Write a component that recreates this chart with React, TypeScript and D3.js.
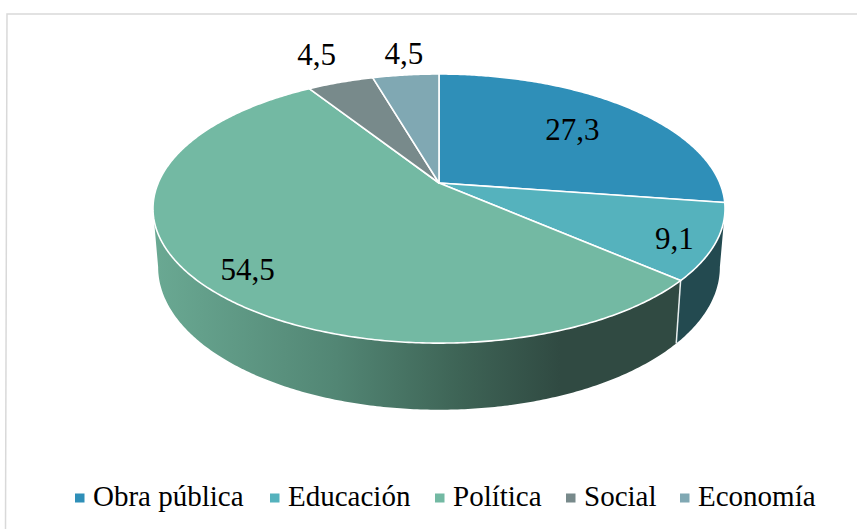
import * as d3 from 'd3';

const categories = ['Obra pública', 'Educación', 'Política', 'Social', 'Economía'];
const values = [27.3, 9.1, 54.5, 4.5, 4.5];
const valueLabels = ['27,3', '9,1', '54,5', '4,5', '4,5'];
const colors = ['#2f8fb8', '#55b2bd', '#73b9a3', '#788a8b', '#80a8b3'];
const sideColors = ['#1b5570', '#234a50', '#304a42', '#3a4748', '#3d5660'];

const width = 858;
const height = 529;

// perspective pie: the apex is not the middle of the projected ellipse
const cx = 439;
const cy = 183;
const rx = 280.8;
const ry = 129.7;
const tilt = 0.19;
const depth = 57;
const bottomScaleX = 0.982;
const bottomScaleY = 1.06;

// label layout: radius along the slice middle, and a small nudge
const labelRadius = [0.68, 0.86, 0.82, 1.27, 1.25];
const labelNudge = [[0, 0], [0, 5], [3, 9], [-2, -5], [5, 0]];
const legendX = [75, 270, 435, 566, 680];

function project(angle: number, r = 1) {
  const u = r * Math.sin(angle);
  const v = -r * Math.cos(angle);
  const w = 1 - tilt * v;
  return [cx + (rx * u) / w, cy + (ry * v) / w];
}

function projectBottom(angle: number) {
  const u = Math.sin(angle);
  const v = -Math.cos(angle);
  const w = 1 - tilt * v;
  return [cx + (bottomScaleX * rx * u) / w, cy + depth + (bottomScaleY * ry * v) / w];
}

function arcAngles(start: number, end: number) {
  const steps = Math.max(2, Math.ceil((end - start) / 0.01));
  return d3.range(steps + 1).map(i => start + ((end - start) * i) / steps);
}

const line = d3.line();

// angles where the rim reaches its widest point, the wall ends there
const wallStart = Math.acos(-tilt);
const wallEnd = 2 * Math.PI - wallStart;

export default function App() {
  const arcs = d3.pie<number>().sort(null)(values);

  return (
    <svg
      width={width}
      height={height}
      style={{ position: 'absolute', left: 0, top: 0, display: 'block' }}
      fontFamily="'Liberation Serif', serif"
    >
      <defs>
        <linearGradient id="sideGrad" gradientUnits="userSpaceOnUse" x1={153} x2={560} y1={0} y2={0}>
          <stop offset="0" stopColor="#6aa993" />
          <stop offset="0.45" stopColor="#528674" />
          <stop offset="0.75" stopColor="#3e6456" />
          <stop offset="1" stopColor="#304a42" />
        </linearGradient>
      </defs>

      <rect width={width} height={height} fill="#fff" />
      <path d="M857,14H7L5.5,529" fill="none" stroke="#d9d9d9" strokeWidth={1.5} />

      {/* side wall, only slices facing the viewer */}
      {arcs.map((a, i) => {
        const start = Math.max(a.startAngle, wallStart);
        const end = Math.min(a.endAngle, wallEnd);
        if (end <= start) return null;
        const angles = arcAngles(start, end);
        const pts = [
          ...angles.map(t => project(t)),
          ...angles.slice().reverse().map(t => projectBottom(t)),
        ] as [number, number][];
        return (
          <path
            key={i}
            d={line(pts) + 'Z'}
            fill={i === 2 ? 'url(#sideGrad)' : sideColors[i]}
          />
        );
      })}
      {/* seam between the side walls */}
      <path
        d={line([project(arcs[1].endAngle), projectBottom(arcs[1].endAngle)] as [number, number][]) ?? ''}
        stroke="#e8eeee"
        strokeWidth={1.5}
        fill="none"
      />

      {/* top face */}
      {arcs.map((a, i) => {
        const pts = [[cx, cy], ...arcAngles(a.startAngle, a.endAngle).map(t => project(t))] as [number, number][];
        return (
          <path
            key={i}
            d={line(pts) + 'Z'}
            fill={colors[i]}
            stroke="#fff"
            strokeWidth={1.6}
            strokeLinejoin="round"
          />
        );
      })}

      {arcs.map((a, i) => {
        const [x, y] = project((a.startAngle + a.endAngle) / 2, labelRadius[i]);
        return (
          <text
            key={i}
            x={x + labelNudge[i][0]}
            y={y + labelNudge[i][1]}
            fontSize={31}
            textAnchor="middle"
            dominantBaseline="central"
            fill="#000"
          >
            {valueLabels[i]}
          </text>
        );
      })}

      {categories.map((c, i) => (
        <g key={c} transform={`translate(${legendX[i]},0)`}>
          <rect x={0} y={493.5} width={9.5} height={9} fill={colors[i]} />
          <text x={18} y={506} fontSize={29} fill="#000">
            {c}
          </text>
        </g>
      ))}
    </svg>
  );
}
